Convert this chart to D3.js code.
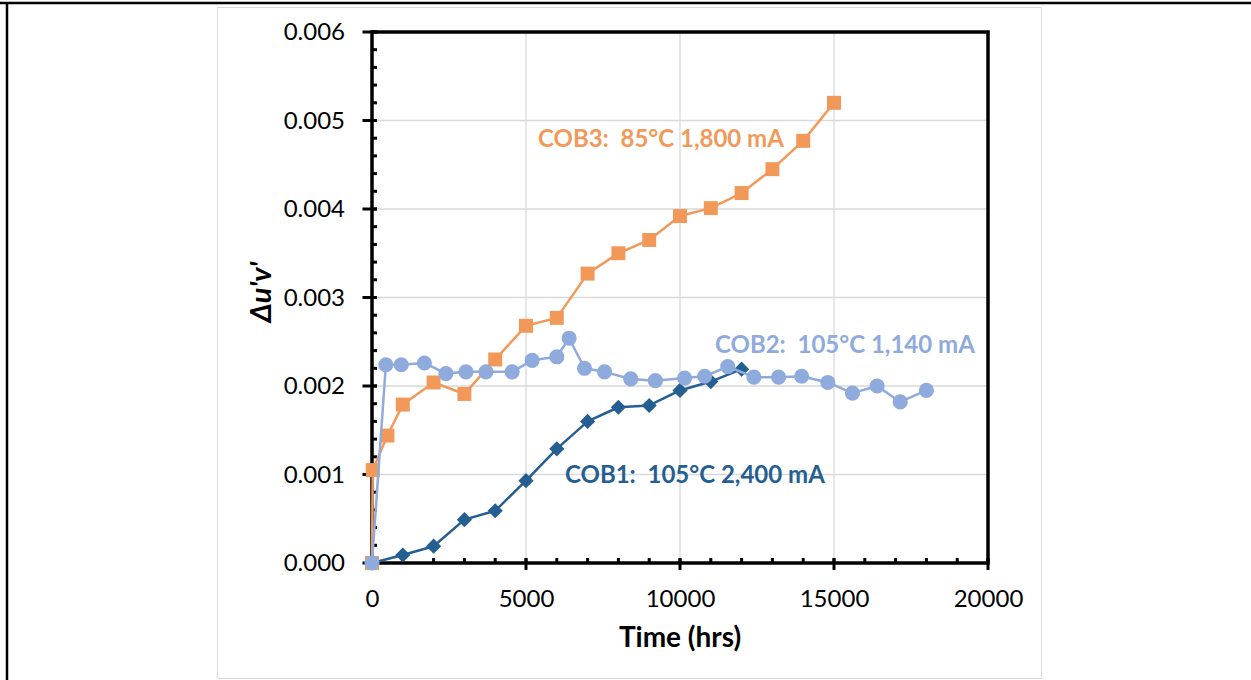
<!DOCTYPE html>
<html>
<head>
<meta charset="utf-8">
<script src="https://cdn.jsdelivr.net/npm/d3@7/dist/d3.min.js"></script>
<style>
  html, body { margin: 0; padding: 0; background: #fff; }
  svg { display: block; }
  text { font-family: Lato, "Open Sans", sans-serif; }
</style>
</head>
<body>
<svg id="chart" width="1251" height="680"></svg>
<script>
// COB1: 105°C, 2,400 mA
const cob1Hours = [0, 1000, 2000, 3000, 4000, 5000, 6000, 7000, 8000, 9000, 10000, 11000, 12000];
const cob1Duv = [0, 0.00009, 0.00019, 0.00049, 0.00059, 0.00093, 0.00129, 0.00160, 0.00176, 0.00178, 0.00195, 0.00205, 0.00219];

// COB2: 105°C, 1,140 mA
const cob2Hours = [0, 450, 950, 1700, 2400, 3050, 3700, 4550, 5200, 6000, 6400, 6900, 7550, 8400, 9200, 10150, 10800, 11550, 12400, 13200, 13950, 14800, 15600, 16400, 17150, 18000];
const cob2Duv = [0, 0.00224, 0.00224, 0.00226, 0.00214, 0.00216, 0.00216, 0.00216, 0.00229, 0.00233, 0.00254, 0.00220, 0.00216, 0.00208, 0.00206, 0.00209, 0.00211, 0.00222, 0.00210, 0.00210, 0.00211, 0.00204, 0.00192, 0.00200, 0.00182, 0.00195];

// COB3: 85°C, 1,800 mA
const cob3Hours = [0, 24, 500, 1000, 2000, 3000, 4000, 5000, 6000, 7000, 8000, 9000, 10000, 11000, 12000, 13000, 14000, 15000];
const cob3Duv = [0, 0.00105, 0.00144, 0.00179, 0.00204, 0.00191, 0.00230, 0.00268, 0.00277, 0.00327, 0.00350, 0.00365, 0.00392, 0.00401, 0.00418, 0.00445, 0.00477, 0.00520];

const xTicks = [0, 5000, 10000, 15000, 20000];
const yTicks = [0, 0.001, 0.002, 0.003, 0.004, 0.005, 0.006];
const xMinorTicks = d3.range(0, 20001, 1000);
const yMinorTicks = d3.range(0, 31).map(i => i * 0.0002);

const seriesLabels = ["COB1:  105°C 2,400 mA", "COB2:  105°C 1,140 mA", "COB3:  85°C 1,800 mA"];

const svg = d3.select("#chart");
const W = 1251, H = 680;

// page frame
svg.append("line").attr("x1", 0).attr("x2", W).attr("y1", 3).attr("y2", 3)
  .attr("stroke", "#000").attr("stroke-width", 2.5);
svg.append("line").attr("x1", 7).attr("x2", 7).attr("y1", 2).attr("y2", H)
  .attr("stroke", "#000").attr("stroke-width", 2.5);

// chart area border
svg.append("rect").attr("x", 217.5).attr("y", 7.5).attr("width", 824).attr("height", 671)
  .attr("fill", "#fff").attr("stroke", "#d9d9d9").attr("stroke-width", 1);

const pLeft = 372, pRight = 988, pTop = 32, pBottom = 563;
const x = d3.scaleLinear().domain([0, 20000]).range([pLeft, pRight]);
const y = d3.scaleLinear().domain([0, 0.006]).range([pBottom, pTop]);

// gridlines
const grid = svg.append("g");
grid.selectAll(".gx").data(xTicks.slice(1, -1)).join("line")
  .attr("x1", d => x(d)).attr("x2", d => x(d)).attr("y1", pTop).attr("y2", pBottom)
  .attr("stroke", "#d9d9d9").attr("stroke-width", 1.3);
grid.selectAll(".gy").data(yTicks.slice(1, -1)).join("line")
  .attr("x1", pLeft).attr("x2", pRight).attr("y1", d => y(d)).attr("y2", d => y(d))
  .attr("stroke", "#d9d9d9").attr("stroke-width", 1.3);

// axes: major ticks cross the line, minor ticks point inward
const axisG = svg.append("g");
const yAxis = d3.axisLeft(y).tickValues(yTicks).tickFormat(d3.format(".3f")).tickSizeInner(0).tickSizeOuter(0).tickPadding(27);
const yG = axisG.append("g").attr("transform", `translate(${pLeft},0)`).call(yAxis);
yG.select(".domain").remove();
yG.selectAll("text").attr("font-size", 24).attr("fill", "#000").attr("font-family", "Lato");

const xAxis = d3.axisBottom(x).tickValues(xTicks).tickFormat(d3.format("d")).tickSizeInner(0).tickSizeOuter(0).tickPadding(27);
const xG = axisG.append("g").attr("transform", `translate(0,${pBottom})`).call(xAxis);
xG.select(".domain").remove();
xG.selectAll("text").attr("font-size", 24).attr("fill", "#000").attr("font-family", "Lato");

const tickW = 3;
// y minor ticks
axisG.selectAll(".ym").data(yMinorTicks).join("line")
  .attr("x1", pLeft).attr("x2", pLeft + 5).attr("y1", d => y(d)).attr("y2", d => y(d))
  .attr("stroke", "#000").attr("stroke-width", tickW);
// y major ticks
axisG.selectAll(".yM").data(yTicks).join("line")
  .attr("x1", pLeft - 9.5).attr("x2", pLeft + 5).attr("y1", d => y(d)).attr("y2", d => y(d))
  .attr("stroke", "#000").attr("stroke-width", tickW);
// x minor ticks
axisG.selectAll(".xm").data(xMinorTicks).join("line")
  .attr("x1", d => x(d)).attr("x2", d => x(d)).attr("y1", pBottom).attr("y2", pBottom - 5)
  .attr("stroke", "#000").attr("stroke-width", tickW);
// x major ticks
axisG.selectAll(".xM").data(xTicks).join("line")
  .attr("x1", d => x(d)).attr("x2", d => x(d)).attr("y1", pBottom + 7).attr("y2", pBottom - 5)
  .attr("stroke", "#000").attr("stroke-width", tickW);

// plot frame
axisG.append("rect").attr("x", pLeft).attr("y", pTop).attr("width", pRight - pLeft).attr("height", pBottom - pTop)
  .attr("fill", "none").attr("stroke", "#000").attr("stroke-width", 3.5);

// axis titles
svg.append("text").attr("x", 680).attr("y", 647).attr("text-anchor", "middle")
  .attr("font-size", 28).attr("font-weight", "bold").attr("fill", "#000").text("Time (hrs)");
svg.append("text").attr("transform", "translate(271,292) rotate(-90)").attr("text-anchor", "middle")
  .attr("font-size", 29).attr("font-weight", "bold").attr("font-style", "italic").attr("fill", "#000").text("Δu'v'");

// series
const orange = "#F2995A", lightBlue = "#8FAADC", darkBlue = "#255E91";
const line = d3.line().x(d => x(d[0])).y(d => y(d[1]));
const plot = svg.append("g");

function drawSeries(hours, vals, color, symbolType, size, angle) {
  const pts = hours.map((h, i) => [h, vals[i]]);
  const g = plot.append("g");
  g.append("path").datum(pts).attr("d", line).attr("fill", "none")
    .attr("stroke", color).attr("stroke-width", 2.5).attr("stroke-linejoin", "round");
  const sym = d3.symbol().type(symbolType).size(size);
  g.selectAll("path.m").data(pts).join("path").attr("class", "m")
    .attr("transform", d => `translate(${x(d[0])},${y(d[1])}) rotate(${angle})`)
    .attr("d", sym).attr("fill", color);
}

drawSeries(cob3Hours, cob3Duv, orange, d3.symbolSquare, 195, 0);
drawSeries(cob1Hours, cob1Duv, darkBlue, d3.symbolSquare, 115, 45);
drawSeries(cob2Hours, cob2Duv, lightBlue, d3.symbolCircle, 180, 0);

// series labels
const labelPos = [[565, 483, darkBlue], [715, 353, lightBlue], [538, 147, orange]];
seriesLabels.forEach((t, i) => {
  svg.append("text").attr("x", labelPos[i][0]).attr("y", labelPos[i][1])
    .attr("font-size", 24).attr("font-weight", "bold").attr("fill", labelPos[i][2])
    .style("white-space", "pre").text(t);
});
</script>
</body>
</html>
